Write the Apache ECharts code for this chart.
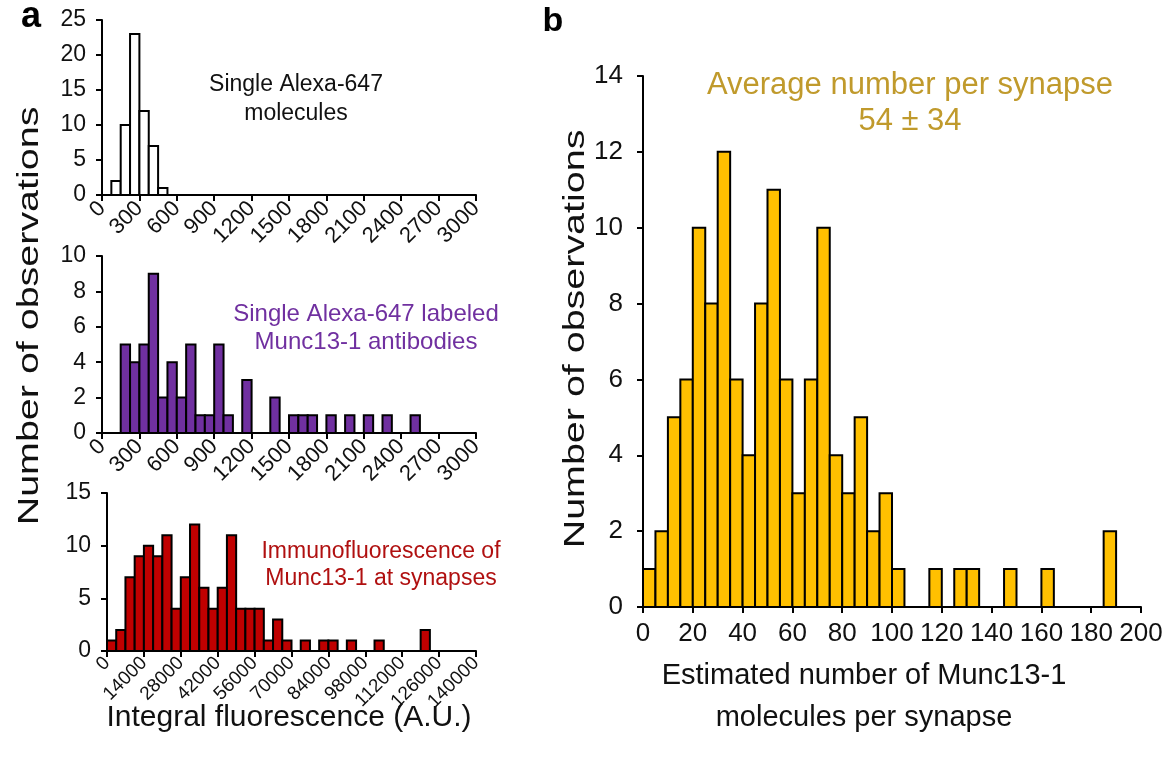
<!DOCTYPE html>
<html><head><meta charset="utf-8">
<script src="https://cdn.jsdelivr.net/npm/echarts@6/dist/echarts.min.js"></script>
<style>html,body{margin:0;padding:0;background:#fff}#c{width:1175px;height:769px}</style>
</head><body><div id="c"></div>
<script>
// ---------- DATA ----------
// Panel a (top): single Alexa-647 molecules, bin width 75 A.U.
const topBinWidth = 75;
const topBinLo = [75, 150, 225, 300, 375, 450];
const topCounts = [2, 10, 23, 12, 7, 1];
// Panel a (middle): single Alexa-647 labeled Munc13-1 antibodies, bin width 75 A.U.
const midBinWidth = 75;
const midBinLo = [150, 225, 300, 375, 450, 525, 600, 675, 750, 825, 900, 975, 1125, 1350, 1500, 1575, 1650, 1800, 1950, 2100, 2250, 2475];
const midCounts = [5, 4, 5, 9, 2, 4, 2, 5, 1, 1, 5, 1, 3, 2, 1, 1, 1, 1, 1, 1, 1, 1];
// Panel a (bottom): immunofluorescence of Munc13-1 at synapses, bin width 3500 A.U.
const botBinWidth = 3500;
const botBinLo = [0, 3500, 7000, 10500, 14000, 17500, 21000, 24500, 28000, 31500, 35000, 38500, 42000, 45500, 49000, 52500, 56000, 59500, 63000, 66500, 73500, 80500, 84000, 91000, 101500, 119000];
const botCounts = [1, 2, 7, 9, 10, 9, 11, 4, 7, 12, 6, 4, 6, 11, 4, 4, 4, 1, 3, 1, 1, 1, 1, 1, 1, 2];
// Panel b: estimated number of Munc13-1 molecules per synapse, bin width 5
const bBinWidth = 5;
const bBinLo = [0, 5, 10, 15, 20, 25, 30, 35, 40, 45, 50, 55, 60, 65, 70, 75, 80, 85, 90, 95, 100, 115, 125, 130, 145, 160, 185];
const bCounts = [1, 2, 5, 6, 10, 8, 12, 6, 4, 8, 11, 6, 3, 6, 10, 4, 3, 5, 2, 3, 1, 1, 1, 1, 1, 1, 2];

// Axis ranges / ticks
const topX = {min: 0, max: 3000, interval: 300};
const topY = {min: 0, max: 25, interval: 5};
const midX = {min: 0, max: 3000, interval: 300};
const midY = {min: 0, max: 10, interval: 2};
const botX = {min: 0, max: 140000, interval: 14000};
const botY = {min: 0, max: 15, interval: 5};
const bX = {min: 0, max: 200, interval: 20};
const bY = {min: 0, max: 14, interval: 2};

// Texts
const labelA = 'a', labelB = 'b';
const yTitle = 'Number of observations';
const xTitleA = 'Integral fluorescence (A.U.)';
const xTitleB = ['Estimated number of Munc13-1', 'molecules per synapse'];
const noteTop = ['Single Alexa-647', 'molecules'];
const noteMid = ['Single Alexa-647 labeled', 'Munc13-1 antibodies'];
const noteBot = ['Immunofluorescence of', 'Munc13-1 at synapses'];
const noteB = ['Average number per synapse', '54 \u00b1 34'];

// ---------- CHART ----------
const FONT = '"Liberation Sans", Arial, sans-serif';
const toData = (lo, counts, w) => lo.map((l, i) => [l, l + w, counts[i]]);

function histRender(fill) {
  return function (params, api) {
    const lo = api.value(0), hi = api.value(1), v = api.value(2);
    const p0 = api.coord([lo, 0]);
    const p1 = api.coord([hi, v]);
    return {
      type: 'rect',
      shape: {x: p0[0], y: p1[1], width: p1[0] - p0[0], height: p0[1] - p1[1]},
      style: {fill: fill, stroke: '#000', lineWidth: 2}
    };
  };
}

const axisCommon = {
  axisLine: {show: true, onZero: false, lineStyle: {color: '#000', width: 2}},
  axisTick: {show: true, inside: false, length: 6, lineStyle: {color: '#000', width: 2}},
  splitLine: {show: false}
};
const plain = v => String(v);

function xAxis(idx, r, fontSize, rotate, margin) {
  return Object.assign({}, axisCommon, {
    type: 'value', gridIndex: idx, min: r.min, max: r.max, interval: r.interval,
    axisLabel: {fontSize: fontSize, color: '#111', fontFamily: FONT, rotate: rotate, margin: margin, showMinLabel: true, showMaxLabel: true, hideOverlap: false, formatter: plain}
  });
}
function yAxis(idx, r, fontSize, margin) {
  return Object.assign({}, axisCommon, {
    type: 'value', gridIndex: idx, min: r.min, max: r.max, interval: r.interval,
    axisLabel: {fontSize: fontSize, color: '#111', fontFamily: FONT, margin: margin, formatter: plain}
  });
}

const chart = echarts.init(document.getElementById('c'), null, {renderer: 'canvas'});

function txt(x, y, lines, size, color, extra, weight) {
  return Object.assign({
    type: 'text', x: x, y: y,
    style: {text: lines.join('\n'), fontSize: size, fontWeight: weight || 'normal', fontFamily: FONT, fill: color, align: 'center', verticalAlign: 'middle', lineHeight: Math.round(size * 1.2)}
  }, extra || {});
}

chart.setOption({
  animation: false,
  backgroundColor: '#fff',
  grid: [
    {left: 102, top: 20, width: 374, height: 175},
    {left: 102, top: 256, width: 374, height: 177},
    {left: 107, top: 493, width: 369, height: 158},
    {left: 643, top: 76, width: 498, height: 531}
  ],
  xAxis: [
    xAxis(0, topX, 22, 45, 10),
    xAxis(1, midX, 22, 45, 10),
    xAxis(2, botX, 19, 45, 9),
    xAxis(3, bX, 26, 0, 14)
  ],
  yAxis: [
    yAxis(0, topY, 23, 16),
    yAxis(1, midY, 23, 16),
    yAxis(2, botY, 23, 16),
    yAxis(3, bY, 26, 20)
  ],
  series: [
    {type: 'custom', xAxisIndex: 0, yAxisIndex: 0, renderItem: histRender('#ffffff'), encode: {x: [0, 1], y: 2}, data: toData(topBinLo, topCounts, topBinWidth)},
    {type: 'custom', xAxisIndex: 1, yAxisIndex: 1, renderItem: histRender('#7030a0'), encode: {x: [0, 1], y: 2}, data: toData(midBinLo, midCounts, midBinWidth)},
    {type: 'custom', xAxisIndex: 2, yAxisIndex: 2, renderItem: histRender('#c00000'), encode: {x: [0, 1], y: 2}, data: toData(botBinLo, botCounts, botBinWidth)},
    {type: 'custom', xAxisIndex: 3, yAxisIndex: 3, renderItem: histRender('#ffc000'), encode: {x: [0, 1], y: 2}, data: toData(bBinLo, bCounts, bBinWidth)}
  ],
  graphic: [
    txt(31, 17, [labelA], 36, '#000', null, 'bold'),
    txt(553, 22, [labelB], 34, '#000', null, 'bold'),
    txt(30, 316, [yTitle], 29, '#111', {rotation: Math.PI / 2, scaleX: 1.36}),
    txt(576, 339, [yTitle], 29, '#111', {rotation: Math.PI / 2, scaleX: 1.36}),
    txt(289, 718, [xTitleA], 30, '#111'),
    {type: 'text', x: 864, y: 697, style: {text: xTitleB.join('\n'), fontSize: 29, fontFamily: FONT, fill: '#111', align: 'center', verticalAlign: 'middle', lineHeight: 42}},
    {type: 'text', x: 296, y: 99, style: {text: noteTop.join('\n'), fontSize: 23, fontFamily: FONT, fill: '#111', align: 'center', verticalAlign: 'middle', lineHeight: 29}},
    {type: 'text', x: 366, y: 328, style: {text: noteMid.join('\n'), fontSize: 24, fontFamily: FONT, fill: '#7030a0', align: 'center', verticalAlign: 'middle', lineHeight: 28}},
    {type: 'text', x: 381, y: 565, style: {text: noteBot.join('\n'), fontSize: 23, fontFamily: FONT, fill: '#b01010', align: 'center', verticalAlign: 'middle', lineHeight: 27}},
    {type: 'text', x: 910, y: 103, style: {text: noteB.join('\n'), fontSize: 31, fontFamily: FONT, fill: '#c09a2c', align: 'center', verticalAlign: 'middle', lineHeight: 36}}
  ]
});
</script></body></html>
